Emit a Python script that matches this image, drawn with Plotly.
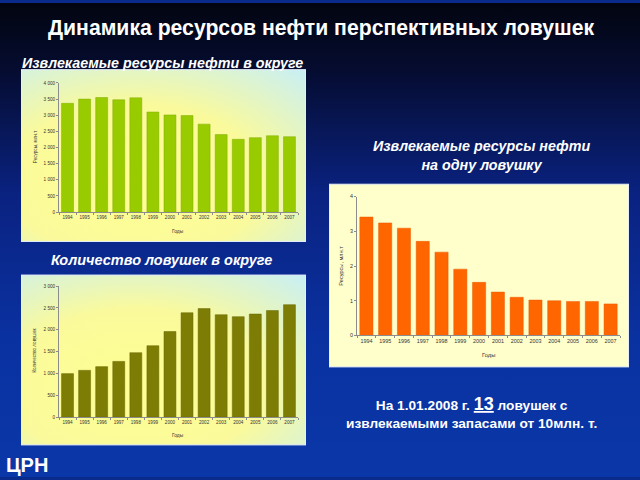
import base64
import plotly.graph_objects as go

# data
years = [str(y) for y in range(1994, 2008)]
resources_total = [3370, 3500, 3550, 3480, 3540, 3100, 3010, 2990, 2725, 2400, 2255, 2305, 2365, 2335]
traps_count = [995, 1070, 1155, 1275, 1475, 1635, 1960, 2390, 2485, 2345, 2300, 2360, 2440, 2575]
resources_per_trap = [3.41, 3.24, 3.09, 2.71, 2.40, 1.91, 1.53, 1.25, 1.10, 1.02, 1.00, 0.98, 0.98, 0.91]

W, H = 640, 480
FONT = "Liberation Sans, Arial, sans-serif"


def px(x):
    return x / W


def py(y):
    return 1 - y / H


# slide background + chart panels as one svg picture
svg = f"""<svg xmlns='http://www.w3.org/2000/svg' width='{W}' height='{H}' viewBox='0 0 {W} {H}' preserveAspectRatio='none'>
<defs>
<linearGradient id='bg' x1='0' y1='0' x2='0' y2='1'>
<stop offset='0' stop-color='#020510'/>
<stop offset='0.14' stop-color='#050c30'/>
<stop offset='0.4' stop-color='#0a2280'/>
<stop offset='0.7' stop-color='#0a31a0'/>
<stop offset='1' stop-color='#0a37a8'/>
</linearGradient>
<radialGradient id='pan' cx='0.4' cy='0.65' r='0.9'>
<stop offset='0' stop-color='#ffff92'/>
<stop offset='0.5' stop-color='#fafa9c'/>
<stop offset='1' stop-color='#c6effa'/>
</radialGradient>
</defs>
<rect width='{W}' height='{H}' fill='url(#bg)'/>
<rect x='21.5' y='67.5' width='284' height='174' fill='url(#pan)' stroke='#e6eefc' stroke-width='1'/>
<rect x='21.5' y='275.5' width='284' height='172' fill='url(#pan)' stroke='#e6eefc' stroke-width='1'/>
<rect x='329.5' y='183.5' width='299' height='185' fill='#ffffcc' stroke='#e6eefc' stroke-width='1'/>
</svg>"""
bg_src = "data:image/svg+xml;base64," + base64.b64encode(svg.encode("utf-8")).decode("ascii")

fig = go.Figure()

fig.add_trace(go.Bar(x=years, y=resources_total, marker=dict(color="#99cc00", line=dict(color="#80aa00", width=0.5)),
                     xaxis="x", yaxis="y"))
fig.add_trace(go.Bar(x=years, y=traps_count, marker=dict(color="#7d7d05", line=dict(color="#666600", width=0.5)),
                     xaxis="x2", yaxis="y2"))
fig.add_trace(go.Bar(x=years, y=resources_per_trap, marker=dict(color="#ff6600", line=dict(color="#e85a00", width=0.5)),
                     xaxis="x3", yaxis="y3"))

tick_small = dict(size=4.6, color="#333333", family=FONT)
tick_big = dict(size=5.4, color="#333333", family=FONT)

xcommon = dict(type="category", showline=True, linecolor="#8c8c8c", linewidth=1, ticks="outside",
               tickson="boundaries", ticklen=2, tickcolor="#8c8c8c", showgrid=False, zeroline=False,
               tickangle=0, fixedrange=True)
ycommon = dict(showline=True, linecolor="#8c8c8c", linewidth=1, ticks="outside", ticklen=2,
               tickcolor="#8c8c8c", showgrid=False, zeroline=False, tickformat=",d", fixedrange=True)

fig.update_layout(
    width=W, height=H,
    margin=dict(l=0, r=0, t=0, b=0),
    paper_bgcolor="#0a2a8c",
    plot_bgcolor="rgba(0,0,0,0)",
    showlegend=False,
    separators=", ",
    bargap=0.3,
    xaxis=dict(xcommon, domain=[px(59), px(298)], anchor="y", tickfont=tick_small),
    yaxis=dict(ycommon, domain=[py(211.7), py(81)], anchor="x", range=[0, 4000], dtick=500, tickfont=tick_small),
    xaxis2=dict(xcommon, domain=[px(59), px(298)], anchor="y2", tickfont=tick_small),
    yaxis2=dict(ycommon, domain=[py(419.3), py(286.7)], anchor="x2", range=[0, 3000], dtick=500, tickfont=tick_small),
    xaxis3=dict(xcommon, domain=[px(357), px(620)], anchor="y3", tickfont=tick_big),
    yaxis3=dict(ycommon, domain=[py(336.7), py(196)], anchor="x3", range=[0, 4], dtick=1, tickfont=tick_big),
    images=[dict(source=bg_src, xref="paper", yref="paper", x=0, y=1, sizex=1, sizey=1,
                 xanchor="left", yanchor="top", sizing="stretch", layer="below")],
)

white = "#ffffff"
ann = [
    # slide texts
    dict(text="<b>Динамика ресурсов нефти перспективных ловушек</b>", x=px(321), y=py(25),
         font=dict(size=21.2, color=white, family=FONT)),
    dict(text="<b><i>Извлекаемые ресурсы нефти в округе</i></b>", x=px(162), y=py(61),
         font=dict(size=14.3, color=white, family=FONT)),
    dict(text="<b><i>Количество ловушек в округе</i></b>", x=px(161), y=py(260),
         font=dict(size=14.5, color=white, family=FONT)),
    dict(text="<b><i>Извлекаемые ресурсы нефти<br>на одну ловушку</i></b>", x=px(481), y=py(154),
         font=dict(size=14.3, color=white, family=FONT)),
    dict(text="<b>На 1.01.2008 г. <span style='font-size:18px'><u>13</u></span> ловушек с<br>"
              "извлекаемыми запасами от 10млн. т.</b>", x=px(471), y=py(415),
         font=dict(size=13.7, color=white, family=FONT)),
    dict(text="<b>ЦРН</b>", x=px(4), y=py(468), xanchor="left",
         font=dict(size=20, color=white, family="Liberation Sans Narrow, Arial Narrow, sans-serif")),
    # axis titles
    dict(text="Ресурсы, млн.т", x=px(35), y=py(146), textangle=-90, font=dict(size=4.6, color="#333333", family=FONT)),
    dict(text="Годы", x=px(178), y=py(231), font=dict(size=4.8, color="#333333", family=FONT)),
    dict(text="Количество ловушек", x=px(35), y=py(352), textangle=-90, font=dict(size=4.6, color="#333333", family=FONT)),
    dict(text="Годы", x=px(178), y=py(438), font=dict(size=4.8, color="#333333", family=FONT)),
    dict(text="Ресурсы, млн.т", x=px(341), y=py(266), textangle=-90, font=dict(size=5.6, color="#333333", family=FONT)),
    dict(text="Годы", x=px(488), y=py(356), font=dict(size=5.8, color="#333333", family=FONT)),
]
for a in ann:
    a.setdefault("xanchor", "center")
    a.setdefault("yanchor", "middle")
    a.update(xref="paper", yref="paper", showarrow=False)
fig.update_layout(annotations=ann)

# the page itself adds a default 8px body margin; drop it so the slide fills the window
fig.write_html("out.html", config={"displayModeBar": False},
               post_script="document.body.style.margin='0';")
